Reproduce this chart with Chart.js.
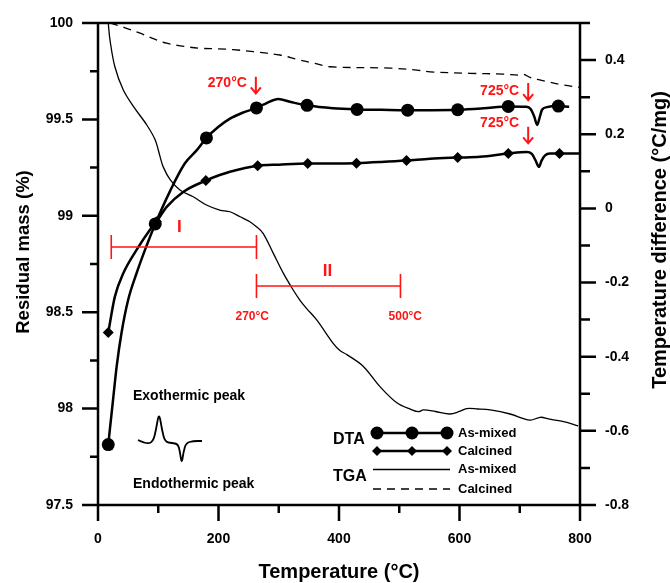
<!DOCTYPE html>
<html>
<head>
<meta charset="utf-8">
<script src="https://cdn.jsdelivr.net/npm/chart.js@4"></script>
<style>
  html, body { margin: 0; padding: 0; background: #fff; }
  #wrap { width: 670px; height: 583px; }
</style>
</head>
<body>
<div id="wrap"><canvas id="chart" width="670" height="583"></canvas></div>
<script>
// DTA as-mixed (right axis, °C/mg)
const dtaMixedTemp = [17, 25, 31, 39, 50, 64, 78, 95, 120, 144, 164, 180, 200, 219, 240, 263, 280, 299, 320, 347, 390, 430, 470, 514, 555, 597, 640, 681, 711, 718, 724, 729, 733, 737, 745, 764, 782];
const dtaMixedVal = [-0.637, -0.516, -0.426, -0.336, -0.247, -0.175, -0.112, -0.042, 0.048, 0.121, 0.157, 0.19, 0.22, 0.242, 0.258, 0.271, 0.284, 0.295, 0.287, 0.278, 0.27, 0.267, 0.266, 0.265, 0.265, 0.266, 0.27, 0.275, 0.274, 0.268, 0.248, 0.225, 0.245, 0.266, 0.273, 0.276, 0.274];
const dtaMixedMarks = [17, 95, 180, 263, 347, 430, 514, 597, 681, 764];

// DTA calcined
const dtaCalcTemp = [17, 28, 42, 64, 86, 97, 114, 142, 179, 202, 219, 265, 300, 348, 390, 429, 470, 512, 551, 597, 634, 681, 711, 720, 726, 732, 736, 742, 750, 766, 800];
const dtaCalcVal = [-0.335, -0.238, -0.175, -0.112, -0.058, -0.036, 0.004, 0.045, 0.075, 0.09, 0.099, 0.115, 0.118, 0.121, 0.121, 0.122, 0.125, 0.129, 0.134, 0.137, 0.139, 0.148, 0.152, 0.147, 0.13, 0.112, 0.128, 0.143, 0.148, 0.148, 0.148];
const dtaCalcMarks = [17, 97, 179, 265, 348, 429, 512, 597, 681, 766];

// TGA as-mixed (left axis, %)
const tgaMixedTemp = [17, 20, 28, 42, 59, 81, 95, 103, 108, 120, 136, 158, 180, 202, 219, 236, 252, 263, 274, 291, 308, 324, 335, 346, 363, 390, 402, 413, 440, 468, 496, 520, 532, 540, 560, 584, 600, 612, 630, 651, 684, 717, 734, 750, 773, 797];
const tgaMixedVal = [100.0, 99.91, 99.773, 99.652, 99.566, 99.471, 99.393, 99.307, 99.255, 99.186, 99.134, 99.099, 99.056, 99.03, 99.021, 98.995, 98.969, 98.943, 98.909, 98.805, 98.70, 98.615, 98.563, 98.52, 98.46, 98.34, 98.30, 98.28, 98.22, 98.114, 98.03, 97.995, 97.984, 97.993, 97.985, 97.972, 97.985, 98.0, 97.998, 97.993, 97.972, 97.94, 97.955, 97.945, 97.932, 97.91];

// TGA calcined
const tgaCalcTemp = [20, 45, 70, 95, 114, 140, 169, 200, 224, 258, 302, 330, 360, 385, 485, 529, 551, 617, 673, 700, 706, 717, 740, 773, 800];
const tgaCalcVal = [100.0, 99.975, 99.947, 99.915, 99.895, 99.88, 99.869, 99.866, 99.862, 99.851, 99.834, 99.812, 99.79, 99.773, 99.766, 99.756, 99.747, 99.739, 99.735, 99.73, 99.735, 99.718, 99.70, 99.678, 99.666];

// annotations (x in °C, y in residual mass %)
const stageBars = [
  { from: 22, to: 263, y: 98.838, label: 'I', labelX: 135, labelY: 98.94 },
  { from: 263, to: 502, y: 98.636, label: 'II', labelX: 381, labelY: 98.714 }
];
const stageLimits = [
  { t: 256, y: 98.475, text: '270°C' },
  { t: 510, y: 98.475, text: '500°C' }
];
const peakArrows = [
  { t: 262, top: 99.721, bottom: 99.635, text: '270°C', textY: 99.69 },
  { t: 714, top: 99.689, bottom: 99.60, text: '725°C', textY: 99.644 },
  { t: 714, top: 99.462, bottom: 99.376, text: '725°C', textY: 99.48 }
];

const FONT = '"Liberation Sans", Arial, Helvetica, sans-serif';
const RED = '#ff1414';
Chart.defaults.color = '#000';
Chart.defaults.font.family = FONT;

const toPoints = (xs, ys) => xs.map((x, i) => ({ x, y: ys[i] }));

// tick marks, frame, axis titles
const framePlugin = {
  id: 'frame',
  afterDatasetsDraw(chart) {
    const { ctx, chartArea: a, scales } = chart;
    ctx.save();
    ctx.strokeStyle = '#000';
    ctx.lineWidth = 2.5;
    ctx.lineCap = 'butt';
    ctx.beginPath();
    ctx.moveTo(a.left, a.top); ctx.lineTo(a.right, a.top);
    ctx.moveTo(a.left, a.top - 1.2); ctx.lineTo(a.left, a.bottom + 1.2);
    ctx.moveTo(a.right, a.top - 1.2); ctx.lineTo(a.right, a.bottom + 1.2);
    ctx.moveTo(a.left - 1.2, a.bottom); ctx.lineTo(a.right + 1.2, a.bottom);

    for (let v = 0; v <= 800; v += 100) {
      const px = scales.x.getPixelForValue(v);
      ctx.moveTo(px, a.bottom);
      ctx.lineTo(px, a.bottom + (v % 200 === 0 ? 16 : 8));
    }
    for (let i = 0; i <= 10; i++) {
      const py = scales.y.getPixelForValue(97.5 + i * 0.25);
      ctx.moveTo(a.left, py);
      ctx.lineTo(a.left - (i % 2 === 0 ? 16 : 8), py);
    }
    for (let i = -8; i <= 5; i++) {
      const py = scales.y1.getPixelForValue(i / 10);
      ctx.moveTo(a.right, py);
      ctx.lineTo(a.right + (i % 2 === 0 ? 16 : 10), py);
    }
    ctx.stroke();

    ctx.fillStyle = '#000';
    ctx.textAlign = 'center';
    ctx.textBaseline = 'middle';
    ctx.font = 'bold 20px ' + FONT;
    ctx.fillText('Temperature (°C)', (a.left + a.right) / 2, 572);

    ctx.save();
    ctx.translate(24, 252);
    ctx.rotate(-Math.PI / 2);
    ctx.font = 'bold 18.5px ' + FONT;
    ctx.fillText('Residual mass (%)', 0, 0);
    ctx.restore();

    ctx.save();
    ctx.translate(660, 240);
    ctx.rotate(-Math.PI / 2);
    ctx.font = 'bold 20px ' + FONT;
    ctx.fillText('Temperature difference (°C/mg)', 0, 0);
    ctx.restore();
    ctx.restore();
  }
};

function smoothPath(ctx, pts) {
  ctx.moveTo(pts[0][0], pts[0][1]);
  for (let i = 1; i < pts.length - 1; i++) {
    const mx = (pts[i][0] + pts[i + 1][0]) / 2;
    const my = (pts[i][1] + pts[i + 1][1]) / 2;
    ctx.quadraticCurveTo(pts[i][0], pts[i][1], mx, my);
  }
  const last = pts[pts.length - 1];
  ctx.lineTo(last[0], last[1]);
}

// red annotations, peak sketch and legend
const notesPlugin = {
  id: 'notes',
  afterDraw(chart) {
    const { ctx, scales } = chart;
    const X = v => scales.x.getPixelForValue(v);
    const Y = v => scales.y.getPixelForValue(v);
    ctx.save();

    ctx.strokeStyle = RED;
    ctx.fillStyle = RED;
    ctx.lineWidth = 1.6;
    ctx.textBaseline = 'middle';
    stageBars.forEach(b => {
      const y = Y(b.y);
      ctx.beginPath();
      ctx.moveTo(X(b.from), y); ctx.lineTo(X(b.to), y);
      ctx.moveTo(X(b.from), y - 12); ctx.lineTo(X(b.from), y + 12);
      ctx.moveTo(X(b.to), y - 12); ctx.lineTo(X(b.to), y + 12);
      ctx.stroke();
      ctx.font = 'bold 17px ' + FONT;
      ctx.textAlign = 'center';
      ctx.fillText(b.label, X(b.labelX), Y(b.labelY));
    });
    ctx.font = 'bold 12px ' + FONT;
    stageLimits.forEach(s => {
      ctx.textAlign = 'center';
      ctx.fillText(s.text, X(s.t), Y(s.y));
    });
    ctx.lineWidth = 2;
    peakArrows.forEach(p => {
      const x = X(p.t), y0 = Y(p.top), y1 = Y(p.bottom);
      ctx.beginPath();
      ctx.moveTo(x, y0); ctx.lineTo(x, y1);
      ctx.moveTo(x - 5, y1 - 6); ctx.lineTo(x, y1); ctx.lineTo(x + 5, y1 - 6);
      ctx.stroke();
      ctx.font = 'bold 14px ' + FONT;
      ctx.textAlign = 'right';
      ctx.fillText(p.text, x - 9, Y(p.textY));
    });

    // exo / endo sketch
    ctx.fillStyle = '#000';
    ctx.strokeStyle = '#000';
    ctx.font = 'bold 14px ' + FONT;
    ctx.textAlign = 'left';
    ctx.fillText('Exothermic peak', 133, 396);
    ctx.fillText('Endothermic peak', 133, 484);
    ctx.lineWidth = 1.8;
    ctx.lineJoin = 'round';
    ctx.beginPath();
    smoothPath(ctx, [[138, 440], [146, 444], [153, 442], [156, 430], [159, 412], [162, 430], [165, 442], [172, 443], [178, 444], [180, 452], [181.7, 464], [183.5, 452], [186, 443], [193, 441], [202, 441]]);
    ctx.stroke();

    // legend
    ctx.font = 'bold 16px ' + FONT;
    ctx.fillText('DTA', 333, 440);
    ctx.fillText('TGA', 333, 477);
    ctx.font = 'bold 13px ' + FONT;
    const rows = [433, 451, 469.5, 489];
    ['As-mixed', 'Calcined', 'As-mixed', 'Calcined'].forEach((t, i) => ctx.fillText(t, 458, rows[i]));

    ctx.lineWidth = 2.5;
    ctx.beginPath();
    ctx.moveTo(377, rows[0]); ctx.lineTo(447, rows[0]);
    ctx.moveTo(377, rows[1]); ctx.lineTo(447, rows[1]);
    ctx.stroke();
    [377, 412, 447].forEach(x => {
      ctx.beginPath();
      ctx.arc(x, rows[0], 6.5, 0, Math.PI * 2);
      ctx.fill();
      ctx.beginPath();
      ctx.moveTo(x, rows[1] - 5); ctx.lineTo(x + 5, rows[1]);
      ctx.lineTo(x, rows[1] + 5); ctx.lineTo(x - 5, rows[1]);
      ctx.closePath();
      ctx.fill();
    });
    ctx.lineWidth = 1.3;
    ctx.beginPath();
    ctx.moveTo(373, rows[2]); ctx.lineTo(450, rows[2]);
    ctx.stroke();
    ctx.setLineDash([8, 6]);
    ctx.beginPath();
    ctx.moveTo(373, rows[3]); ctx.lineTo(450, rows[3]);
    ctx.stroke();
    ctx.restore();
  }
};

const tickFont = { size: 14, weight: 'bold', family: FONT };
const noVPad = s => { s.paddingTop = 0; s.paddingBottom = 0; };

new Chart(document.getElementById('chart'), {
  type: 'line',
  data: {
    datasets: [
      {
        label: 'DTA As-mixed',
        data: toPoints(dtaMixedTemp, dtaMixedVal),
        yAxisID: 'y1',
        borderColor: '#000',
        borderWidth: 2.5,
        cubicInterpolationMode: 'monotone',
        pointStyle: 'circle',
        pointRadius: ctx => dtaMixedMarks.includes(dtaMixedTemp[ctx.dataIndex]) ? 6.5 : 0,
        pointBackgroundColor: '#000',
        pointBorderWidth: 0
      },
      {
        label: 'DTA Calcined',
        data: toPoints(dtaCalcTemp, dtaCalcVal),
        yAxisID: 'y1',
        borderColor: '#000',
        borderWidth: 2.5,
        cubicInterpolationMode: 'monotone',
        pointStyle: 'rectRot',
        pointRadius: ctx => dtaCalcMarks.includes(dtaCalcTemp[ctx.dataIndex]) ? 5.5 : 0,
        pointBackgroundColor: '#000',
        pointBorderWidth: 0
      },
      {
        label: 'TGA As-mixed',
        data: toPoints(tgaMixedTemp, tgaMixedVal),
        yAxisID: 'y',
        borderColor: '#000',
        borderWidth: 1.3,
        tension: 0.35,
        pointRadius: 0
      },
      {
        label: 'TGA Calcined',
        data: toPoints(tgaCalcTemp, tgaCalcVal),
        yAxisID: 'y',
        borderColor: '#000',
        borderWidth: 1.3,
        borderDash: [8, 6],
        tension: 0.35,
        pointRadius: 0
      }
    ]
  },
  options: {
    responsive: false,
    animation: false,
    events: [],
    layout: { padding: { top: 23, left: 0, right: 0, bottom: 0 } },
    plugins: { legend: { display: false }, tooltip: { enabled: false } },
    scales: {
      x: {
        type: 'linear', min: 0, max: 800,
        grid: { display: false }, border: { display: false },
        ticks: {
          stepSize: 100, padding: 18, maxRotation: 0, autoSkip: false, font: tickFont,
          callback: v => (v % 200 === 0 ? String(v) : '')
        },
        afterFit: s => { s.height = 78; s.paddingLeft = 0; s.paddingRight = 0; }
      },
      y: {
        position: 'left', min: 97.5, max: 100,
        grid: { display: false }, border: { display: false },
        ticks: {
          stepSize: 0.25, padding: 17, autoSkip: false, font: tickFont,
          callback: v => (Math.round(v * 100) % 50 === 0 ? String(v) : '')
        },
        afterFit: s => { s.width = 98; noVPad(s); }
      },
      y1: {
        position: 'right', min: -0.8, max: 0.5,
        grid: { display: false }, border: { display: false },
        ticks: {
          stepSize: 0.1, padding: 17, autoSkip: false, font: tickFont,
          callback: v => {
            const r = Math.round(v * 10);
            if (r % 2 !== 0) return '';
            return r === 0 ? '0' : (r / 10).toFixed(1);
          }
        },
        afterFit: s => { s.width = 90; noVPad(s); }
      }
    }
  },
  plugins: [framePlugin, notesPlugin]
});
</script>
</body>
</html>
